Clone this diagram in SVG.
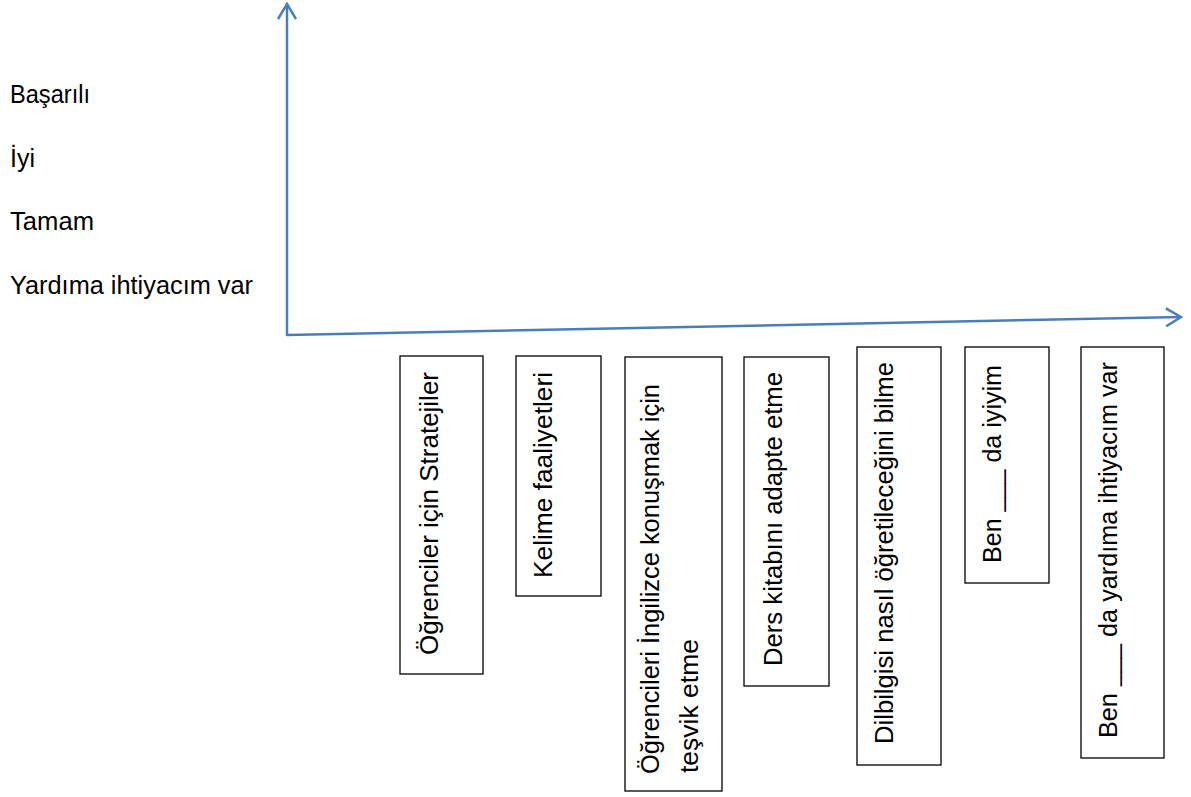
<svg xmlns="http://www.w3.org/2000/svg" width="1191" height="797" viewBox="0 0 1191 797">
<defs>
<style>
.lbl{font-family:"Liberation Sans",Arial,sans-serif;font-size:25.5px;fill:#000}
.box{fill:#fff;stroke:#000;stroke-width:1.3}
.axis{fill:none;stroke:#4A7EBB;stroke-width:2.5}
</style>
<marker id="chev" viewBox="0 0 20 20" refX="18" refY="10" markerWidth="20" markerHeight="20" markerUnits="userSpaceOnUse" orient="auto">
<path d="M3,1 L18,10 L3,19" fill="none" stroke="#4A7EBB" stroke-width="2.5"/>
</marker>
</defs>
<rect width="1191" height="797" fill="#fff"/>
<g id="connectors">
<line class="axis" x1="287" y1="336" x2="287" y2="4" marker-end="url(#chev)"/>
<line class="axis" x1="287" y1="335" x2="1181" y2="317" marker-end="url(#chev)"/>
</g>
<g id="ylabels">
<text class="lbl" x="10" y="103" textLength="80" lengthAdjust="spacingAndGlyphs">Başarılı</text>
<text class="lbl" x="10" y="167" textLength="25" lengthAdjust="spacingAndGlyphs">İyi</text>
<text class="lbl" x="10" y="230" textLength="84" lengthAdjust="spacingAndGlyphs">Tamam</text>
<text class="lbl" x="10" y="294" textLength="243" lengthAdjust="spacingAndGlyphs">Yardıma ihtiyacım var</text>
</g>
<g id="n1">
<rect class="box" x="400" y="356" width="83" height="318"/>
<text class="lbl" transform="translate(438,655) rotate(-90)" textLength="283" lengthAdjust="spacingAndGlyphs">Öğrenciler için Stratejiler</text>
</g>
<g id="n2">
<rect class="box" x="516" y="356" width="85" height="240"/>
<text class="lbl" transform="translate(552,578) rotate(-90)" textLength="206" lengthAdjust="spacingAndGlyphs">Kelime faaliyetleri</text>
</g>
<g id="n3">
<rect class="box" x="625" y="357" width="97" height="434"/>
<text class="lbl" transform="translate(659,774) rotate(-90)" textLength="390" lengthAdjust="spacingAndGlyphs">Öğrencileri İngilizce konuşmak için</text>
<text class="lbl" transform="translate(698,773) rotate(-90)" textLength="134" lengthAdjust="spacingAndGlyphs">teşvik etme</text>
</g>
<g id="n4">
<rect class="box" x="744" y="357" width="85" height="329"/>
<text class="lbl" transform="translate(782,666) rotate(-90)" textLength="294" lengthAdjust="spacingAndGlyphs">Ders kitabını adapte etme</text>
</g>
<g id="n5">
<rect class="box" x="857" y="347" width="84" height="418"/>
<text class="lbl" transform="translate(893,744) rotate(-90)" textLength="382" lengthAdjust="spacingAndGlyphs">Dilbilgisi nasıl öğretileceğini bilme</text>
</g>
<g id="n6">
<rect class="box" x="965" y="347" width="84" height="236"/>
<text class="lbl" transform="translate(1001,563) rotate(-90)" textLength="198" lengthAdjust="spacingAndGlyphs">Ben ___ da iyiyim</text>
</g>
<g id="n7">
<rect class="box" x="1081" y="347" width="83" height="411"/>
<text class="lbl" transform="translate(1117,738) rotate(-90)" textLength="376" lengthAdjust="spacingAndGlyphs">Ben ___ da yardıma ihtiyacım var</text>
</g>
</svg>
